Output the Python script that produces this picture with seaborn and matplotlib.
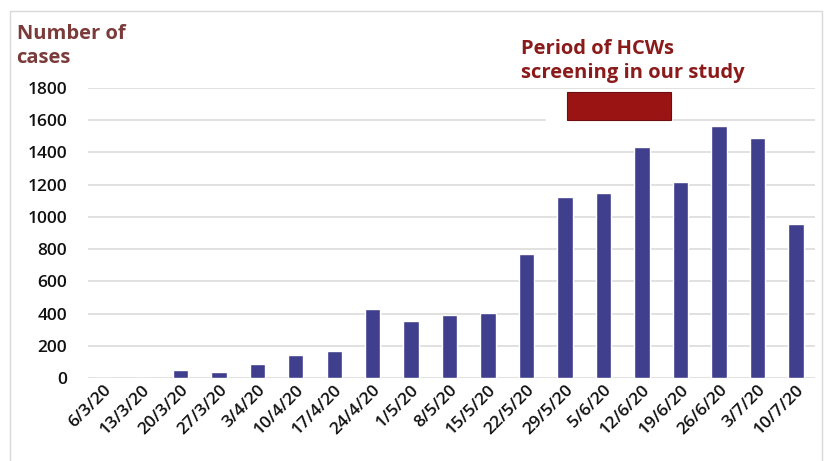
import numpy as np
import pandas as pd
import matplotlib
matplotlib.use("Agg")
import matplotlib.pyplot as plt
import seaborn as sns
from matplotlib.patches import Rectangle

# weekly counts
weeks = ["6/3/20", "13/3/20", "20/3/20", "27/3/20", "3/4/20", "10/4/20", "17/4/20",
         "24/4/20", "1/5/20", "8/5/20", "15/5/20", "22/5/20", "29/5/20", "5/6/20",
         "12/6/20", "19/6/20", "26/6/20", "3/7/20", "10/7/20"]
cases = [0, 0, 50, 35, 90, 145, 170, 430, 355, 390, 405, 770, 1125, 1150,
         1435, 1215, 1565, 1490, 955]
y_ticks = [0, 200, 400, 600, 800, 1000, 1200, 1400, 1600, 1800]

# screening period box (category positions / case values)
screen_x = [12.05, 14.75]
screen_y = [1600, 1775]

sns.set_theme(style="white")
plt.rcParams["font.family"] = ["Open Sans", "DejaVu Sans"]

df = pd.DataFrame({"week": weeks, "cases": cases})

fig = plt.figure(figsize=(8.29, 4.61), dpi=100)
ax = fig.add_axes([0.1062, 0.18, 0.877, 0.629])

sns.barplot(data=df, x="week", y="cases", color="#3f3f8e", saturation=1,
            width=0.4, ax=ax, zorder=3)

ax.set_xlim(-0.4, 18.5)
ax.set_ylim(0, 1800)
ax.set_yticks(y_ticks)
ax.set_yticklabels([str(v) for v in y_ticks], fontsize=12.5, color="#111111",
                   fontweight="semibold")
ax.yaxis.grid(True, color="#d9d9d9", linewidth=1.1, zorder=0)
ax.tick_params(axis="y", length=0, pad=15)
ax.tick_params(axis="x", length=0, pad=3)
for lbl in ax.get_xticklabels():
    lbl.set_rotation(45)
    lbl.set_ha("right")
    lbl.set_rotation_mode("anchor")
    lbl.set_fontsize(12.5)
    lbl.set_fontweight("semibold")
    lbl.set_color("#111111")
ax.set_xlabel("")
ax.set_ylabel("")
for s in ax.spines.values():
    s.set_visible(False)

# screening period marker
ax.add_patch(Rectangle((screen_x[0] - 0.55, screen_y[0] - 10), screen_x[1] - screen_x[0] + 0.6,
                       screen_y[1] - screen_y[0] + 20, facecolor="white", edgecolor="none",
                       zorder=4))
ax.add_patch(Rectangle((screen_x[0], screen_y[0]), screen_x[1] - screen_x[0],
                       screen_y[1] - screen_y[0], facecolor="#9b1414", edgecolor="#6e0e0e",
                       linewidth=0.8, zorder=5))

fig.text(0.628, 0.868, "Period of HCWs\nscreening in our study", color="#8b1a1a",
         fontsize=14.5, fontweight="bold", ha="left", va="center", linespacing=1.25)
fig.text(0.020, 0.900, "Number of\ncases", color="#7b3b3b", fontsize=14.5,
         fontweight="bold", ha="left", va="center", linespacing=1.3)

# light frame around the chart
fig.patches.append(Rectangle((0.012, -0.01), 0.98, 0.987, transform=fig.transFigure,
                             fill=False, edgecolor="#d9d9d9", linewidth=1))

fig.savefig("out.png", dpi=100)
